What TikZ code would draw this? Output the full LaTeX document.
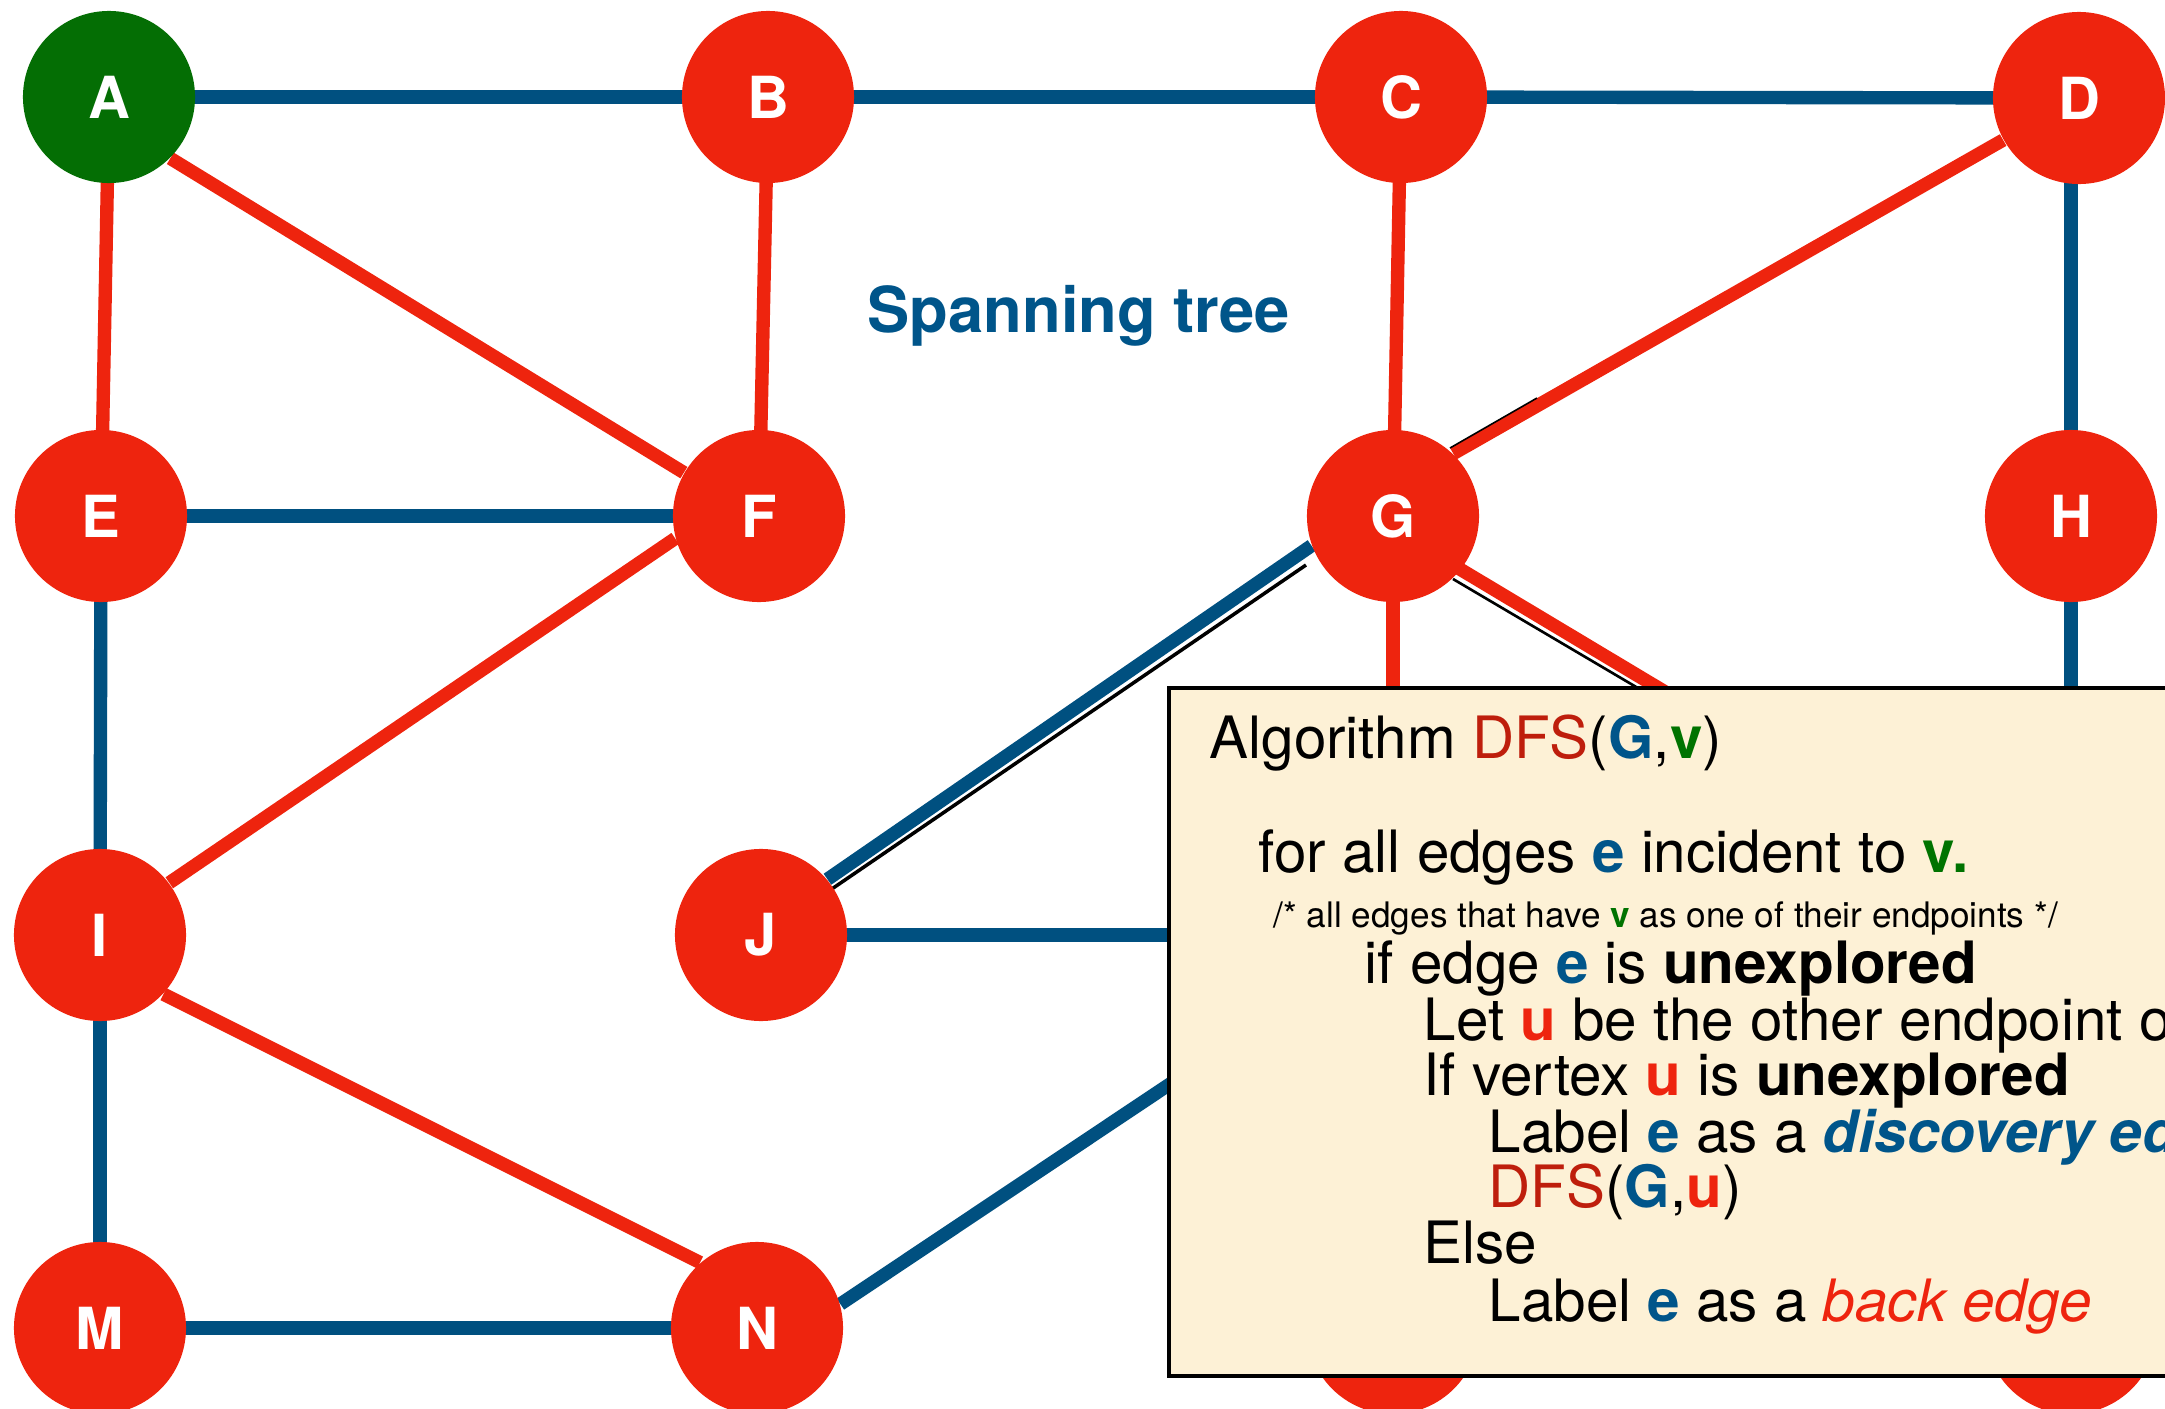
\documentclass[tikz,border=0pt]{standalone}
\usepackage{fontspec}
\setmainfont{TeX Gyre Heros}
\usetikzlibrary{calc}
\pgfdeclarelayer{background}
\pgfsetlayers{background,main}
\definecolor{nred}{RGB}{238,36,14}
\definecolor{ngreen}{RGB}{4,110,4}
\definecolor{eblue}{RGB}{0,80,128}
\definecolor{tblue}{RGB}{0,85,138}
\definecolor{dred}{RGB}{190,30,12}
\definecolor{tgreen}{RGB}{0,115,0}
\definecolor{cream}{RGB}{253,241,214}
\newcommand\bl[1]{\textbf{\color{tblue}#1}}
\newcommand\gr[1]{\textbf{\color{tgreen}#1}}
\newcommand\rd[1]{\textbf{\color{nred}#1}}
\newcommand\dfsname{{\color{dred}DFS}}
\tikzset{
  vtx/.style={circle, fill=nred, minimum size=1.72cm, inner sep=0pt, text=white,
    font=\fontsize{16.5}{18}\selectfont\bfseries},
  blueedge/.style={draw=eblue, line width=3.8pt},
  rededge/.style={draw=nred, line width=3.8pt},
  shadowline/.style={draw=black, line width=1pt},
  algo/.style={anchor=base west, inner sep=0pt, font=\fontsize{16.6}{20}\selectfont},
  algosmall/.style={anchor=base west, inner sep=0pt, font=\fontsize{10}{12}\selectfont},
  algobox/.style={draw=black, line width=0.9pt, fill=cream}
}
\begin{document}
\begin{tikzpicture}[x=0.01cm, y=-0.01cm]
\useasboundingbox (0,0) rectangle (2165,1409);
\clip (0,0) rectangle (2165,1409);
% vertices
\node[vtx, fill=ngreen] (A) at (109,97) {A};
\node[vtx] (B) at (768,97) {B};
\node[vtx] (C) at (1401,97) {C};
\node[vtx] (D) at (2079,98) {D};
\node[vtx] (E) at (101,516) {E};
\node[vtx] (F) at (759,516) {F};
\node[vtx] (G) at (1393,516) {G};
\node[vtx] (H) at (2071,516) {H};
\node[vtx] (I) at (100,935) {I};
\node[vtx] (J) at (761,935) {J};
\coordinate (K) at (1393,935);
\coordinate (L) at (2071,935);
\node[vtx] (M) at (100,1328) {M};
\node[vtx] (N) at (757,1328) {N};
\node[vtx] (O) at (1393,1328) {};
\node[vtx] (P) at (2071,1328) {};
% shadow lines
\coordinate (sd1) at (1450,448);
\coordinate (sd2) at (1537,398);
\coordinate (sj1) at (823,895);
\coordinate (sj2) at (1306,565);
\coordinate (sl1) at (1453,579);
\coordinate (sl2) at (1665,704);
\begin{pgfonlayer}{background}
  % spanning tree (blue)
  \draw[blueedge] (A.center) -- (B.center);
  \draw[blueedge] (B.center) -- (C.center);
  \draw[blueedge] (C.center) -- (D.center);
  \draw[blueedge] (H.center) -- (H.center |- D.center);
  \draw[blueedge] (E.center) -- (F.center);
  \draw[blueedge] (E.center) -- (I.center);
  \draw[blueedge] (I.center) -- (M.center);
  \draw[blueedge] (M.center) -- (N.center);
  \draw[blueedge] (J.center) -- (K);
  \draw[blueedge] (N.16) -- (K);
  \draw[blueedge] (H.center) -- (L);
  \draw[blueedge] (G.200) -- (J.40);
  % back edges (red)
  \draw[rededge] (A.center) -- (E.center);
  \draw[rededge] (A.-45) -- (F.150);
  \draw[rededge] (B.center) -- (F.center);
  \draw[rededge] (C.center) -- (G.center);
  \draw[rededge] (D.209) -- (G.46);
  \draw[rededge] (F.195) -- (I.37);
  \draw[rededge] (I.-43) -- (N.131);
  \draw[rededge] (G.center) -- (K);
  \draw[rededge] ($(G)+(0,13)$) -- (L);
  % thin black lines
  \draw[shadowline, line width=0.45pt] (sd1) -- (sd2);
  \draw[shadowline] (sj1) -- (sj2);
  \draw[shadowline, line width=0.75pt] (sl1) -- (sl2);
\end{pgfonlayer}
% label
\node[anchor=base west, inner sep=0pt, text=tblue, font=\fontsize{18}{22}\selectfont\bfseries] (title) at (867,332) {Spanning tree};
% algorithm box
\path[algobox] (1169,688) rectangle (2200,1376);
\node[algo] (t1) at (1209,758) {Algorithm \dfsname(\bl{G},\gr{v})};
\node[algo] (t2) at (1258,872) {for all edges \bl{e} incident to \gr{v.}};
\node[algosmall] (t3) at (1273,927) {/* all edges that have \gr{v} as one of their endpoints */};
\node[algo] (t4) at (1364,983) {if edge \bl{e} is \textbf{unexplored}};
\node[algo] (t5) at (1423,1040) {Let \rd{u} be the other endpoint of \bl{e}};
\node[algo] (t6) at (1423,1095) {If vertex \rd{u} is \textbf{unexplored}};
\node[algo] (t7) at (1488,1152) {Label \bl{e} as a \textbf{\itshape\color{tblue}discovery edge}};
\node[algo] (t8) at (1488,1207) {\dfsname(\bl{G},\rd{u})};
\node[algo] (t9) at (1423,1263) {Else};
\node[algo] (t10) at (1488,1321) {Label \bl{e} as a {\itshape\color{nred}back edge}};
\end{tikzpicture}
\end{document}
